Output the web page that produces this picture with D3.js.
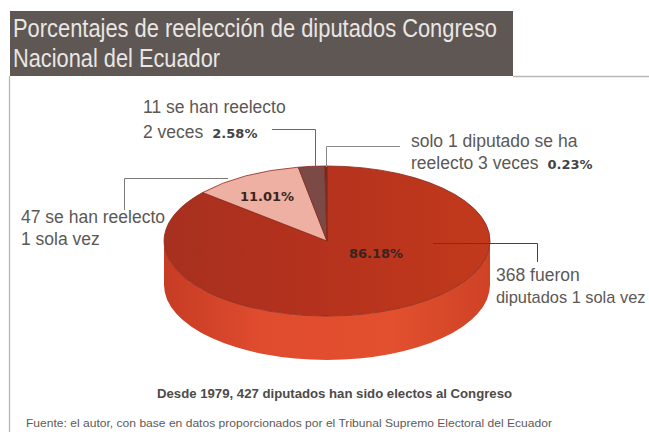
<!DOCTYPE html>
<html lang="es">
<head>
<meta charset="utf-8">
<script src="https://cdn.jsdelivr.net/npm/d3@7"></script>
<style>
  html, body { margin: 0; padding: 0; background: #fff; overflow: hidden; }
  svg { display: block; font-family: "Liberation Sans", Arial, sans-serif; }
</style>
</head>
<body>
<svg id="chart" width="649" height="432"></svg>
<script>
// Reelection shares, clockwise from twelve o'clock
const categories = ["1 sola vez electos", "Reelectos 1 vez", "Reelectos 2 veces", "Reelectos 3 veces"];
const shares = [86.18, 11.01, 2.58, 0.23];
const sliceColors = ["url(#topFill)", "#edb0a2", "#7b4a47", "#6b2a22"];
const titleLines = ["Porcentajes de reelección de diputados Congreso", "Nacional del Ecuador"];
const caption = "Desde 1979, 427 diputados han sido electos al Congreso";
const sourceNote = "Fuente: el autor, con base en datos proporcionados por el Tribunal Supremo Electoral del Ecuador";

const svg = d3.select("#chart");
const cx = 327, cy = 241, rx = 163, ry = 75, depth = 44;

const defs = svg.append("defs");
const grad = (id, stops) => {
  const g = defs.append("linearGradient").attr("id", id);
  stops.forEach(([o, c]) => g.append("stop").attr("offset", o).attr("stop-color", c));
};
grad("topFill", [[0, "#a8301f"], [0.5, "#b5321d"], [1, "#c23a1c"]]);
grad("sideFill", [[0, "#c63c24"], [0.3, "#e04c2e"], [0.7, "#e2502e"], [1, "#cf4226"]]);

// Header band and frame rules
svg.append("rect").attr("x", 10).attr("y", 11).attr("width", 503).attr("height", 65).attr("fill", "#5e5754");
svg.append("path").attr("d", "M513 76.5H649M9.5 76V432").attr("fill", "none").attr("stroke", "#b9b7b6").attr("stroke-width", 1.3);
// Title lines are tall and tightly set, so the glyphs are squeezed to their measure
svg.selectAll("text.title").data(titleLines).join("text")
  .attr("class", "title")
  .attr("x", 13).attr("y", (d, i) => 37 + i * 30)
  .attr("font-size", 25).attr("fill", "#e9e6e3").attr("textLength", (d, i) => i ? 207 : 484)
  .attr("lengthAdjust", "spacingAndGlyphs")
  .text(d => d);

// Cylinder wall under the disc
svg.append("path")
  .attr("d", `M${cx - rx} ${cy}A${rx} ${ry} 0 0 0 ${cx + rx} ${cy}V${cy + depth}A${rx} ${ry} 0 0 1 ${cx - rx} ${cy + depth}Z`)
  .attr("fill", "url(#sideFill)");

// Disc: a circular pie flattened into an ellipse
const pie = d3.pie().sort(null).value(d => d);
const arc = d3.arc().innerRadius(0).outerRadius(1);
const disc = svg.append("g").attr("transform", `translate(${cx},${cy}) scale(${rx},${ry})`);
disc.selectAll("path").data(pie(shares)).join("path")
  .attr("d", arc)
  .attr("fill", (d, i) => sliceColors[i])
  .attr("stroke", "#8a2a1c").attr("stroke-width", 0.8)
  .attr("vector-effect", "non-scaling-stroke");

// Leader lines
const leaders = [
  { d: "M272 129.5H315.5V167", c: "#6b6664" },
  { d: "M400 146.5H326.5V167", c: "#8b8785" },
  { d: "M124.5 210V178.5H228", c: "#7d7977" },
  { d: "M433 243.5H537.5V262", c: "#5a3a33" }
];
svg.selectAll("path.leader").data(leaders).join("path")
  .attr("class", "leader").attr("d", d => d.d)
  .attr("fill", "none").attr("stroke", d => d.c).attr("stroke-width", 1);

// Annotations; bold spans carry the share taken from the data
const pct = v => v.toFixed(2) + "%";
const notes = [
  { x: 143, y: 113, t: "11 se han reelecto" },
  { x: 143, y: 138, t: "2 veces", v: shares[2], dx: 9 },
  { x: 411, y: 147, t: "solo 1 diputado se ha" },
  { x: 411, y: 169, t: "reelecto 3 veces", v: shares[3], dx: 9 },
  { x: 21, y: 223, t: "47 se han reelecto" },
  { x: 21, y: 245, t: "1 sola vez" },
  { x: 496, y: 281, t: "368 fueron" },
  // Set a little smaller so the line stays on the page
  { x: 496, y: 303, t: "diputados 1 sola vez", size: 16.4 }
];
notes.forEach(n => {
  const t = svg.append("text").attr("x", n.x).attr("y", n.y)
    .attr("font-size", n.size || 17.5).attr("fill", "#5b5856").text(n.t);
  if (n.v !== undefined) {
    t.append("tspan").attr("dx", n.dx).attr("font-family", "DejaVu Sans").attr("font-weight", "bold")
      .attr("font-size", 13).attr("fill", "#444").text(pct(n.v));
  }
});

// Shares printed on the disc
svg.selectAll("text.share").data([{ v: shares[0], x: 376, y: 258 }, { v: shares[1], x: 267, y: 201 }]).join("text")
  .attr("class", "share")
  .attr("x", d => d.x).attr("y", d => d.y)
  .attr("text-anchor", "middle").attr("font-family", "DejaVu Sans").attr("font-weight", "bold")
  .attr("font-size", 13).attr("fill", "#3b2320")
  .text(d => pct(d.v));

// Footer
svg.append("text").attr("x", 157).attr("y", 398).attr("font-size", 12).attr("font-weight", "bold")
  .attr("fill", "#4d4a49").attr("textLength", 355).attr("lengthAdjust", "spacingAndGlyphs").text(caption);
svg.append("text").attr("x", 26).attr("y", 427).attr("font-size", 11)
  .attr("fill", "#5d5a58").attr("textLength", 526).attr("lengthAdjust", "spacingAndGlyphs").text(sourceNote);
</script>
</body>
</html>
